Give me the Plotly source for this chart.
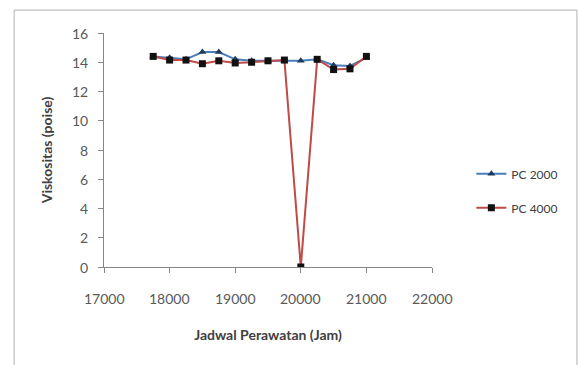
import plotly.graph_objects as go

# Maintenance schedule (hours) and viscosity readings (poise)
jam = [17750, 18000, 18250, 18500, 18750, 19000, 19250, 19500, 19750, 20000, 20250, 20500, 20750, 21000]
pc2000 = [14.4, 14.3, 14.2, 14.7, 14.7, 14.2, 14.1, 14.1, 14.1, 14.1, 14.2, 13.8, 13.75, 14.3]
pc4000 = [14.4, 14.15, 14.15, 13.9, 14.1, 13.95, 14.0, 14.1, 14.15, 0, 14.2, 13.5, 13.55, 14.4]

x_ticks = [17000, 18000, 19000, 20000, 21000, 22000]
y_ticks = [0, 2, 4, 6, 8, 10, 12, 14, 16]

FONT = "Lato, 'Open Sans', sans-serif"
TICK_FONT = dict(family=FONT, size=14, color="#595959")

fig = go.Figure()
fig.add_trace(go.Scatter(
    x=jam, y=pc2000, name="PC 2000", mode="lines+markers",
    line=dict(color="#4A7EBB", width=2),
    marker=dict(symbol="triangle-up", size=7, color="#1F3A5F"),
    legendgroup="a",
))
fig.add_trace(go.Scatter(
    x=jam, y=pc4000, name="PC 4000", mode="lines+markers",
    line=dict(color="#BE4B48", width=2),
    marker=dict(symbol="square", size=7, color="#111111"),
    legendgroup="b",
))

axis_common = dict(
    showgrid=False, zeroline=False, showline=True, linecolor="#868686", linewidth=1,
    ticks="outside", ticklen=5, tickcolor="#868686", showticklabels=False,
)

# tick labels are placed as annotations anchored to the axis values so
# their distance from the axis lines can be set freely
x_labels = [
    dict(x=v, y=0, xref="x", yref="paper", text=str(v), showarrow=False,
         xanchor="center", yanchor="top", yshift=-21, font=TICK_FONT)
    for v in x_ticks
]
y_labels = [
    dict(x=0, y=v, xref="paper", yref="y", text=str(v), showarrow=False,
         xanchor="right", yanchor="middle", xshift=-14, font=TICK_FONT)
    for v in y_ticks
]

fig.update_layout(
    width=579, height=365,
    margin=dict(l=104, r=147, t=33, b=98),
    paper_bgcolor="white", plot_bgcolor="white",
    xaxis=dict(range=[17000, 22000], tickvals=x_ticks,
               title=dict(text="<b>Jadwal Perawatan (Jam)</b>", standoff=58,
                          font=dict(family=FONT, size=14, color="#404040")),
               **axis_common),
    yaxis=dict(range=[0, 16], tickvals=y_ticks,
               title=dict(text="<b>Viskositas (poise)</b>", standoff=42,
                          font=dict(family=FONT, size=14, color="#404040")),
               **axis_common),
    legend=dict(x=1.12, y=0.46, xanchor="left", yanchor="top",
                font=dict(family=FONT, size=12, color="#404040"),
                tracegroupgap=15, bgcolor="rgba(0,0,0,0)"),
    showlegend=True,
    annotations=x_labels + y_labels,
    shapes=[dict(type="rect", xref="paper", yref="paper", layer="below",
                 x0=-0.274, x1=1.442, y0=-0.43, y1=1.098,
                 line=dict(color="#B0B0B0", width=1))],
)

fig.write_html("out.html")
